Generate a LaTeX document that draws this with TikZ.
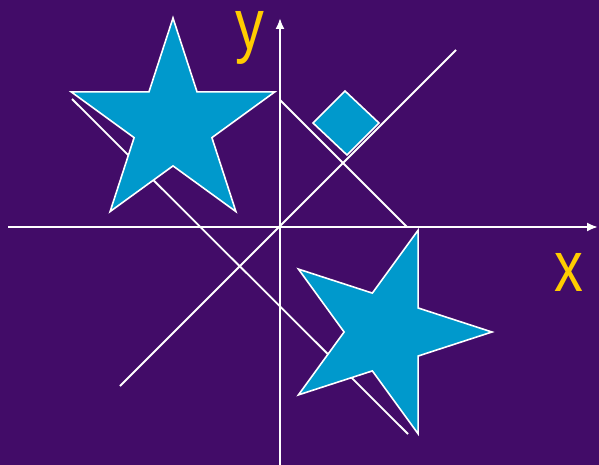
\documentclass[tikz,border=0pt]{standalone}
\usepackage{fontspec}
\setmainfont{Liberation Sans}
\usetikzlibrary{arrows.meta}
\definecolor{bgpurple}{RGB}{66,12,104}
\definecolor{starblue}{RGB}{0,153,204}
\definecolor{labelyellow}{RGB}{255,204,0}
\tikzset{
  axisline/.style={white, line width=2pt, -{Latex[length=11pt,width=9pt]}},
  thinline/.style={white, line width=1.8pt},
  shapefill/.style={fill=starblue, draw=white, line width=1.6pt, line join=miter},
  axislabel/.style={text=labelyellow, font=\fontsize{72}{72}\selectfont, inner sep=0pt, anchor=base}
}
\begin{document}
\begin{tikzpicture}[x=1pt,y=-1pt]
\fill[bgpurple] (0,0) rectangle (599,465);
\useasboundingbox (0,0) rectangle (599,465);
% coordinates
\coordinate (xs) at (8,227);
\coordinate (xe) at (598,227);
\coordinate (ys) at (280,465);
\coordinate (ye) at (280,18);
\coordinate (d1s) at (120,386);
\coordinate (d1e) at (456,50);
\coordinate (d2s) at (72,99);
\coordinate (d2e) at (408,434);
\coordinate (d3s) at (280,100);
\coordinate (d3e) at (407,227);
% lines
\draw[axisline] (xs) -- (xe);
\draw[axisline] (ys) -- (ye);
\draw[thinline] (d1s) -- (d1e);
\draw[thinline] (d2s) -- (d2e);
\draw[thinline] (d3s) -- (d3e);
% star 1
\draw[shapefill, shift={(173,125)}] (270:107) -- (306:40.9) -- (342:107) -- (18:40.9) -- (54:107) -- (90:40.9) -- (126:107) -- (162:40.9) -- (198:107) -- (234:40.9) -- cycle;
% star 2
\draw[shapefill, shift={(385,332)}] (0:107) -- (36:40.9) -- (72:107) -- (108:40.9) -- (144:107) -- (180:40.9) -- (216:107) -- (252:40.9) -- (288:107) -- (324:40.9) -- cycle;
% diamond
\draw[shapefill] (345,91) -- (379,123) -- (347,155) -- (313,123) -- cycle;
% labels
\node[axislabel] (ylabel) at (249.5,49.5) {\scalebox{0.8}[1]{y}};
\node[axislabel] (xlabel) at (569,291) {\scalebox{0.8}[1]{x}};
\end{tikzpicture}
\end{document}
